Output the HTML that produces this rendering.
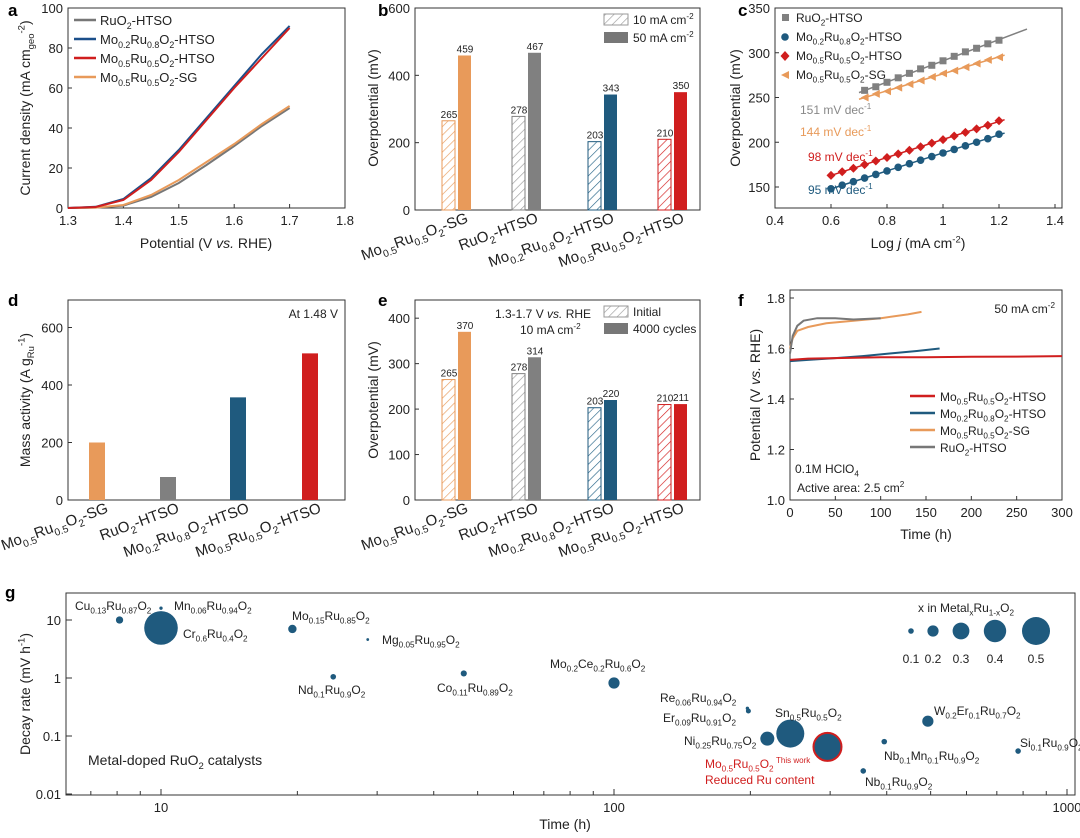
<!DOCTYPE html>
<html><head><meta charset="utf-8"><style>
body{margin:0;background:#fff;}
svg{font-family:"Liberation Sans",Arial,sans-serif;}
</style></head><body>
<svg id="s" width="1080" height="833" viewBox="0 0 1080 833" xmlns="http://www.w3.org/2000/svg">
<defs>
<pattern id="hO" patternUnits="userSpaceOnUse" width="6" height="6" patternTransform="rotate(45)"><line x1="0" y1="0" x2="0" y2="6" stroke="#E89A5A" stroke-width="1.3"/></pattern>
<pattern id="hG" patternUnits="userSpaceOnUse" width="6" height="6" patternTransform="rotate(45)"><line x1="0" y1="0" x2="0" y2="6" stroke="#999" stroke-width="1.3"/></pattern>
<pattern id="hB" patternUnits="userSpaceOnUse" width="6" height="6" patternTransform="rotate(45)"><line x1="0" y1="0" x2="0" y2="6" stroke="#2E6A8C" stroke-width="1.3"/></pattern>
<pattern id="hR" patternUnits="userSpaceOnUse" width="6" height="6" patternTransform="rotate(45)"><line x1="0" y1="0" x2="0" y2="6" stroke="#D42020" stroke-width="1.3"/></pattern>
</defs>
</svg>
<script>
// ---------- data ----------
const aPot=[1.30,1.35,1.40,1.45,1.50,1.55,1.60,1.65,1.70];
const aBlue=[0,0.6,4.5,15,29,45,61,77,91];
const aRed=[0,0.5,4,14,28,44,60,75,90];
const aGray=[0,0.2,1.2,5.5,12.5,21.5,31,41,50];
const aOrange=[0,0.2,1.5,6.5,14,23,32,42,51];
const bCats=["Mo_{0.5}Ru_{0.5}O_{2}-SG","RuO_{2}-HTSO","Mo_{0.2}Ru_{0.8}O_{2}-HTSO","Mo_{0.5}Ru_{0.5}O_{2}-HTSO"];
const b10=[265,278,203,210];
const b50=[459,467,343,350];
const cX=[0.6,0.64,0.68,0.72,0.76,0.8,0.84,0.88,0.92,0.96,1.0,1.04,1.08,1.12,1.16,1.2];
const cGray=[null,null,null,258,262,267,272,277,282,286,291,296,301,305,310,314];
const cOrange=[null,null,null,250,254,257,261,265,269,273,277,280,284,288,292,295];
const cRed=[163,167,171,175,179,183,187,191,195,199,203,207,211,215,219,224];
const cBlue=[148,152,156,160,164,168,172,176,180,184,188,192,196,200,204,209];
const dVals=[200,80,357,510];
const eInit=[265,278,203,210];
const e4000=[370,314,220,211];
const fRedT=[0,20,50,100,150,200,250,300];
const fRedV=[1.555,1.56,1.562,1.565,1.565,1.567,1.568,1.57];
const fBlueT=[0,20,50,80,110,140,165];
const fBlueV=[1.55,1.555,1.562,1.57,1.58,1.59,1.6];
const fOrT=[0,3,8,20,40,70,100,130,145];
const fOrV=[1.6,1.64,1.67,1.685,1.7,1.71,1.72,1.735,1.745];
const fGrT=[0,3,8,15,30,50,70,100];
const fGrV=[1.58,1.65,1.69,1.71,1.72,1.72,1.715,1.72];
const gNames=["Cu_{0.13}Ru_{0.87}O_{2}","Mn_{0.06}Ru_{0.94}O_{2}","Cr_{0.6}Ru_{0.4}O_{2}","Mo_{0.15}Ru_{0.85}O_{2}","Mg_{0.05}Ru_{0.95}O_{2}","Nd_{0.1}Ru_{0.9}O_{2}","Co_{0.11}Ru_{0.89}O_{2}","Mo_{0.2}Ce_{0.2}Ru_{0.6}O_{2}","Re_{0.06}Ru_{0.94}O_{2}","Er_{0.09}Ru_{0.91}O_{2}","Ni_{0.25}Ru_{0.75}O_{2}","Sn_{0.5}Ru_{0.5}O_{2}","Mo_{0.5}Ru_{0.5}O_{2}","Nb_{0.1}Mn_{0.1}Ru_{0.9}O_{2}","Nb_{0.1}Ru_{0.9}O_{2}","W_{0.2}Er_{0.1}Ru_{0.7}O_{2}","Si_{0.1}Ru_{0.9}O_{2}"];
const gTime=[8.1,10.0,10.0,19.5,28.6,24,46.6,100,197,198,218,245,296,395,355,493,780];
const gRate=[10,16,7.3,7,4.6,1.05,1.2,0.82,0.3,0.27,0.09,0.11,0.065,0.08,0.025,0.18,0.055];
const gX=[0.13,0.06,0.6,0.15,0.05,0.1,0.11,0.2,0.06,0.09,0.25,0.5,0.5,0.1,0.1,0.2,0.1];
const gLegX=[0.1,0.2,0.3,0.4,0.5];

// ---------- helpers ----------
const S=document.getElementById('s');const NS="http://www.w3.org/2000/svg";
function el(tag,attrs,parent){const e=document.createElementNS(NS,tag);for(const k in attrs)e.setAttribute(k,attrs[k]);(parent||S).appendChild(e);return e;}
function txt(x,y,str,size,attrs,parent){const t=el('text',Object.assign({x:x,y:y,'font-size':size,fill:'#222'},attrs||{}),parent);
 const parts=str.split(/(_\{[^}]*\}|\^\{[^}]*\}|\*\{[^}]*\})/);let shift=0;
 parts.forEach(p=>{if(!p)return;let dy=0,fs=size,s=p,it=false;
  if(p.startsWith('_{')){s=p.slice(2,-1);fs=size*0.68;dy=size*0.3;}else if(p.startsWith('^{')){s=p.slice(2,-1);fs=size*0.68;dy=-size*0.4;}else if(p.startsWith('*{')){s=p.slice(2,-1);it=true;}
  const a={'font-size':fs,dy:dy-shift};if(it)a['font-style']='italic';
  const ts=el('tspan',a,t);ts.textContent=s;shift=dy;});
 return t;}
function lin(d0,d1,p0,p1){return v=>p0+(v-d0)/(d1-d0)*(p1-p0);}
function frame(x0,y0,x1,y1,name){el('rect',{x:x0,y:y0,width:x1-x0,height:y1-y0,fill:'none',stroke:'#333','stroke-width':1});}
function path(xs,ys,X,Y,col,w){let d='';xs.forEach((v,i)=>{d+=(i?'L':'M')+X(v).toFixed(1)+','+Y(ys[i]).toFixed(1);});return el('path',{d:d,fill:'none',stroke:col,'stroke-width':w||2});}
function yticks(vals,Y,x0,labels){vals.forEach((v,i)=>{el('line',{x1:x0,x2:x0+4,y1:Y(v),y2:Y(v),stroke:'#333'});txt(x0-5,Y(v)+5,labels?labels[i]:String(v),13,{'text-anchor':'end'});});}
function xticks(vals,X,y0,labels){vals.forEach((v,i)=>{el('line',{x1:X(v),x2:X(v),y1:y0,y2:y0-4,stroke:'#333'});txt(X(v),y0+17,labels?labels[i]:String(v),13,{'text-anchor':'middle'});});}
const OR='#E89A5A',GR='#808080',BL='#1F5A7E',RD='#D01E1E';

// ---------- panel letters ----------
[['a',8,16],['b',378,16],['c',738,16],['d',8,306],['e',378,306],['f',738,306],['g',5,598]].forEach(p=>{const t=txt(p[1],p[2],p[0],17,{'font-weight':'bold',fill:'#000'});});

// ---------- panel a ----------
(function(){const X=lin(1.3,1.8,68,345),Y=lin(0,100,208,8);
frame(68,8,345,208,'panel-a-plot');
yticks([0,20,40,60,80,100],Y,68);xticks([1.3,1.4,1.5,1.6,1.7,1.8],X,208);
txt(206,248,'Potential (V *{vs.} RHE)',14,{'text-anchor':'middle'});
txt(0,0,'Current density (mA cm_{geo}^{-2})',14,{'text-anchor':'middle',transform:'translate(30,108) rotate(-90)'});
const ser=[[aGray,'#777','curve-ruo2'],[aOrange,OR,'curve-mo05-sg'],[aBlue,'#1B4F8A','curve-mo02'],[aRed,RD,'curve-mo05-htso']];
ser.forEach(s=>{const p=path(aPot,s[0],X,Y,s[1],2);});
const leg=[['RuO_{2}-HTSO','#777'],['Mo_{0.2}Ru_{0.8}O_{2}-HTSO','#1B4F8A'],['Mo_{0.5}Ru_{0.5}O_{2}-HTSO',RD],['Mo_{0.5}Ru_{0.5}O_{2}-SG',OR]];
leg.forEach((l,i)=>{const y=20+i*19;el('line',{x1:74,x2:96,y1:y,y2:y,stroke:l[1],'stroke-width':2.5});const t=txt(100,y+5,l[0],13);});
})();

// ---------- bar panels ----------
function barPanel(x0,x1,y0,y1,dmax,ticks,A,B,centers,hatch,solid,name){
 const Y=lin(0,dmax,y1,y0);frame(x0,y0,x1,y1,name);yticks(ticks,Y,x0);
 centers.forEach((c,i)=>{
  const r1=el('rect',{x:c-15,y:Y(A[i]),width:13,height:y1-Y(A[i]),fill:'url(#'+hatch[i]+')',stroke:solid[i],'stroke-width':1});
  
  const r2=el('rect',{x:c+1,y:Y(B[i]),width:13,height:y1-Y(B[i]),fill:solid[i]});
  
  txt(c-8,Y(A[i])-3,String(A[i]),10,{'text-anchor':'middle'});txt(c+8,Y(B[i])-3,String(B[i]),10,{'text-anchor':'middle'});
 });
 return Y;}
function rotLabels(centers,y){bCats.forEach((c,i)=>{const t=txt(0,0,c,15,{'text-anchor':'end',transform:'translate('+(centers[i]+12)+','+y+') rotate(-20)'});});}
const cols=[OR,GR,BL,RD],hat=['hO','hG','hB','hR'];
const bC=[457,527,603,673];
barPanel(415,700,8,210,600,[0,200,400,600],b10,b50,bC,hat,cols,'panel-b');
txt(0,0,'Overpotential (mV)',14,{'text-anchor':'middle',transform:'translate(378,108) rotate(-90)'});
rotLabels(bC,222);
el('rect',{x:604,y:14,width:24,height:11,fill:'url(#hG)',stroke:'#999'});txt(633,24,'10 mA cm^{-2}',12);
el('rect',{x:604,y:32,width:24,height:11,fill:'#777'});txt(633,42,'50 mA cm^{-2}',12);
const eC=[457,527,603,673];
barPanel(415,700,300,500,440,[0,100,200,300,400],eInit,e4000,eC,hat,cols,'panel-e');
txt(0,0,'Overpotential (mV)',14,{'text-anchor':'middle',transform:'translate(378,400) rotate(-90)'});
rotLabels(eC,512);
txt(495,318,'1.3-1.7 V *{vs.} RHE',12);txt(520,334,'10 mA cm^{-2}',12);
el('rect',{x:604,y:306,width:24,height:11,fill:'url(#hG)',stroke:'#999'});txt(633,316,'Initial',12);
el('rect',{x:604,y:323,width:24,height:11,fill:'#777'});txt(633,333,'4000 cycles',12);
(function(){const Y=lin(0,640,500,316);frame(68,300,345,500,'panel-d-plot');yticks([0,200,400,600],Y,68);
const dC=[97,168,238,310];dVals.forEach((v,i)=>{const r=el('rect',{x:dC[i]-8,y:Y(v),width:16,height:500-Y(v),fill:cols[i]});});
txt(338,318,'At 1.48 V',12,{'text-anchor':'end'});
txt(0,0,'Mass activity (A g_{Ru}^{-1})',14,{'text-anchor':'middle',transform:'translate(30,400) rotate(-90)'});
rotLabels(dC,512);})();

// ---------- panel c ----------
(function(){const X=lin(0.4,1.4,775,1055),Y=lin(150,350,187,8);frame(775,8,1062,208,'panel-c-plot');
yticks([150,200,250,300,350],Y,775);xticks([0.4,0.6,0.8,1.0,1.2,1.4],X,208);
txt(918,248,'Log *{j} (mA cm^{-2})',14,{'text-anchor':'middle'});
txt(0,0,'Overpotential (mV)',14,{'text-anchor':'middle',transform:'translate(740,108) rotate(-90)'});
function fitLine(ys,col,xa,xb){const xs=[],vs=[];ys.forEach((v,i)=>{if(v!=null){xs.push(cX[i]);vs.push(v);}});const n=xs.length;let mx=0,my=0;xs.forEach((x,i)=>{mx+=x/n;my+=vs[i]/n;});let sxy=0,sxx=0;xs.forEach((x,i)=>{sxy+=(x-mx)*(vs[i]-my);sxx+=(x-mx)*(x-mx);});const k=sxy/sxx;
 el('line',{x1:X(xa),x2:X(xb),y1:Y(my+k*(xa-mx)),y2:Y(my+k*(xb-mx)),stroke:col,'stroke-width':1.5});}
fitLine(cGray,GR,0.7,1.3);fitLine(cOrange,OR,0.7,1.22);fitLine(cRed,RD,0.6,1.22);fitLine(cBlue,BL,0.6,1.22);
cX.forEach((x,i)=>{
 if(cGray[i]!=null){const m=el('rect',{x:X(x)-3.5,y:Y(cGray[i])-3.5,width:7,height:7,fill:GR});}
 if(cOrange[i]!=null){const cx=X(x),cy=Y(cOrange[i]);const m=el('polygon',{points:(cx-4)+','+cy+' '+(cx+4)+','+(cy-4)+' '+(cx+4)+','+(cy+4),fill:OR});}
 {const cx=X(x),cy=Y(cRed[i]);const m=el('polygon',{points:cx+','+(cy-4.5)+' '+(cx+4.5)+','+cy+' '+cx+','+(cy+4.5)+' '+(cx-4.5)+','+cy,fill:RD});}
 {const m=el('circle',{cx:X(x),cy:Y(cBlue[i]),r:3.8,fill:BL});}
});
el('rect',{x:782,y:14,width:7,height:7,fill:GR});txt(796,22,'RuO_{2}-HTSO',12);
el('circle',{cx:785,cy:37,r:3.8,fill:BL});txt(796,41,'Mo_{0.2}Ru_{0.8}O_{2}-HTSO',12);
el('polygon',{points:'785,51 789.5,56 785,61 780.5,56',fill:RD});txt(796,60,'Mo_{0.5}Ru_{0.5}O_{2}-HTSO',12);
el('polygon',{points:'781,75 789,71 789,79',fill:OR});txt(796,79,'Mo_{0.5}Ru_{0.5}O_{2}-SG',12);
txt(800,114,'151 mV dec^{-1}',12,{fill:'#888'});txt(800,136,'144 mV dec^{-1}',12,{fill:OR});
txt(808,161,'98 mV dec^{-1}',12,{fill:RD});txt(808,194,'95 mV dec^{-1}',12,{fill:BL});
})();

// ---------- panel f ----------
(function(){const X=lin(0,300,790,1062),Y=lin(1.0,1.8,500,298);frame(790,290,1062,500,'panel-f-plot');
yticks([1.0,1.2,1.4,1.6,1.8],Y,790,['1.0','1.2','1.4','1.6','1.8']);xticks([0,50,100,150,200,250,300],X,500);
txt(926,539,'Time (h)',14,{'text-anchor':'middle'});
txt(0,0,'Potential (V *{vs.} RHE)',14,{'text-anchor':'middle',transform:'translate(760,395) rotate(-90)'});
[[fOrT,fOrV,OR,'curve-f-sg'],[fGrT,fGrV,'#777','curve-f-ruo2'],[fBlueT,fBlueV,BL,'curve-f-mo02'],[fRedT,fRedV,RD,'curve-f-mo05']].forEach(s=>{const p=path(s[0],s[1],X,Y,s[2],2);});
txt(1055,313,'50 mA cm^{-2}',12,{'text-anchor':'end'});
[['Mo_{0.5}Ru_{0.5}O_{2}-HTSO',RD],['Mo_{0.2}Ru_{0.8}O_{2}-HTSO',BL],['Mo_{0.5}Ru_{0.5}O_{2}-SG',OR],['RuO_{2}-HTSO','#777']].forEach((l,i)=>{const y=396+i*17;el('line',{x1:910,x2:935,y1:y,y2:y,stroke:l[1],'stroke-width':2.5});txt(940,y+5,l[0],12);});
txt(795,473,'0.1M HClO_{4}',12);txt(797,492,'Active area: 2.5 cm^{2}',12);
})();

// ---------- panel g ----------
(function(){const X=t=>161+453*(Math.log10(t)-1),Y=r=>678-58*Math.log10(r);
frame(66,593,1075,795,'panel-g-plot');
[[10,'10'],[1,'1'],[0.1,'0.1'],[0.01,'0.01']].forEach(d=>{el('line',{x1:66,x2:72,y1:Y(d[0]),y2:Y(d[0]),stroke:'#333'});txt(61,Y(d[0])+5,d[1],13,{'text-anchor':'end'});});
[10,100,1000].forEach(d=>{el('line',{x1:X(d),x2:X(d),y1:795,y2:789,stroke:'#333'});txt(X(d),812,String(d),13,{'text-anchor':'middle'});});
[7,8,9,20,30,40,50,60,70,80,90,200,300,400,500,600,700,800,900].forEach(d=>{el('line',{x1:X(d),x2:X(d),y1:795,y2:791,stroke:'#333'});});
txt(565,829,'Time (h)',14,{'text-anchor':'middle'});
txt(0,0,'Decay rate (mV h^{-1})',14,{'text-anchor':'middle',transform:'translate(30,694) rotate(-90)'});
txt(88,765,'Metal-doped RuO_{2} catalysts',14);
const rad=x=>Math.max(1.3,28*x);
const lab=[[75,610],[174,610],[183,638],[292,620],[382,644],[298,694],[437,692],[550,668],[660,702],[663,722],[684,745],[775,717],[705,768],[884,760],[865,786],[934,715],[1020,747]];
gNames.forEach((n,i)=>{const c=el('circle',{cx:X(gTime[i]),cy:Y(gRate[i]),r:rad(gX[i]),fill:BL,stroke:i==12?RD:'none','stroke-width':2});
 
 txt(lab[i][0],lab[i][1],n,12,{fill:i==12?RD:'#222'});});
txt(776,763,'This work',8,{fill:RD});txt(705,784,'Reduced Ru content',12,{fill:RD});
txt(918,612,'x in Metal_{x}Ru_{1-x}O_{2}',12);
const lx=[911,933,961,995,1036];
gLegX.forEach((v,i)=>{const c=el('circle',{cx:lx[i],cy:631,r:rad(v),fill:BL});txt(lx[i],663,String(v),12,{'text-anchor':'middle'});});
})();
</script>
</body></html>
